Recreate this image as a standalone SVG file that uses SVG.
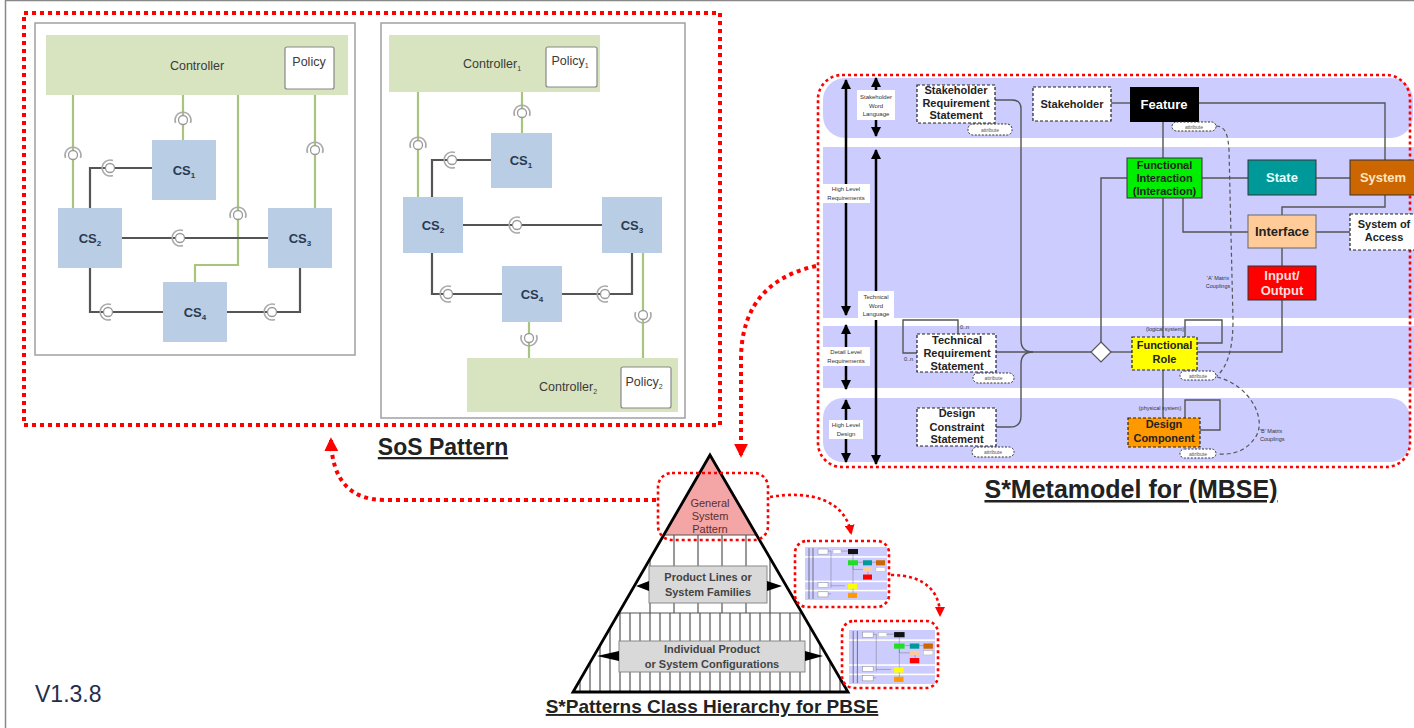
<svg xmlns="http://www.w3.org/2000/svg" width="1414" height="728" viewBox="0 0 1414 728">
<defs>
<style>
text{font-family:"Liberation Sans",Arial,sans-serif}
.frame{fill:#fff;stroke:#a0a0a0;stroke-width:1.5}
.ctrl{fill:#d8e4bf}
.pol{fill:#fff;stroke:#888;stroke-width:1.2}
.cs{fill:#b9cde5}
.g{fill:none;stroke:#a9c47f;stroke-width:2.2}
.d{fill:none;stroke:#555;stroke-width:2.2}
.t12{font-size:12.5px;fill:#3a3a3a;text-anchor:middle}
.cst{font-size:13px;font-weight:bold;fill:#2b3a50;text-anchor:middle}
.reddot{fill:none;stroke:#f00;stroke-width:4;stroke-dasharray:4 4}
.reddot2{fill:none;stroke:#f00;stroke-width:2.6;stroke-dasharray:3 3}
.band{fill:#ccccff}
.ml{fill:none;stroke:#555;stroke-width:1.4}
.vline{stroke:#000;stroke-width:2.5;marker-start:url(#ah);marker-end:url(#ah)}
.lbl{font-size:6px;fill:#333;text-anchor:middle}
.lblbg{fill:#fff}
.dn{stroke:#222;stroke-width:1.2;stroke-dasharray:3 2}
.nt{font-size:11px;font-weight:bold;text-anchor:middle;fill:#222}
.nt13{font-size:13px;font-weight:bold;text-anchor:middle}
.attr{fill:#fff;stroke:#333;stroke-width:1;stroke-dasharray:2 1.5}
.attrt{font-size:5px;fill:#555;text-anchor:middle}
.tiny{font-size:5.5px;fill:#333}
.title{font-weight:bold;fill:#222;text-decoration:underline;text-anchor:middle}
.hatch{stroke:#555;stroke-width:1.2}
.pbox{fill:#d9d9d9;stroke:#888;stroke-width:1}
.pt{font-size:11px;font-weight:bold;fill:#444;text-anchor:middle}
.sa{fill:none;stroke:#aaa;stroke-width:1.6}
.sb{fill:#fff;stroke:#999;stroke-width:1.3}
</style>
<marker id="ah" viewBox="0 0 10 10" refX="9" refY="5" markerWidth="4" markerHeight="4" orient="auto-start-reverse"><path d="M0,0 L10,5 L0,10 z" fill="#000"/></marker>
<marker id="rah" viewBox="0 0 10 10" refX="8" refY="5" markerUnits="userSpaceOnUse" markerWidth="14" markerHeight="14" orient="auto"><path d="M0,0 L10,5 L0,10 z" fill="#f00"/></marker>
<marker id="rah2" viewBox="0 0 10 10" refX="8" refY="5" markerUnits="userSpaceOnUse" markerWidth="10" markerHeight="10" orient="auto"><path d="M0,0 L10,5 L0,10 z" fill="#f00"/></marker>
<g id="sockT"><path class="sa" d="M-7.5,3 A8,8 0 1 1 7.5,3"/><circle class="sb" r="4.5"/></g>
<g id="sockB"><path class="sa" d="M-7.5,-3 A8,8 0 1 0 7.5,-3"/><circle class="sb" r="4.5"/></g>
<g id="sockL"><path class="sa" d="M3,-7.5 A8,8 0 1 0 3,7.5"/><circle class="sb" r="4.5"/></g>
<clipPath id="tri"><path d="M710,455 L573,692 L848,692 Z"/></clipPath>
<symbol id="thumb" viewBox="0 0 82 52" preserveAspectRatio="none">
<rect width="82" height="52" fill="#ccccff"/>
<rect y="9" width="82" height="1.5" fill="#fff"/>
<rect y="33" width="82" height="1.5" fill="#fff"/>
<rect y="42" width="82" height="1.5" fill="#fff"/>
<path d="M4,1 V51 M8,1 V51" stroke="#333" stroke-width="0.6"/>
<path d="M23,4 H26 V40 M23,46 H26 M26,38 H40 M36,4 H43 M48,7 V47 M53,15 H72 M48,18 V22 H59 M63,24 V27" fill="none" stroke="#666" stroke-width="0.4"/>
<rect x="13" y="2" width="10" height="5" fill="#fff" stroke="#777" stroke-width="0.4"/>
<rect x="28" y="2.5" width="8" height="4" fill="#fff" stroke="#999" stroke-width="0.3"/>
<rect x="43" y="2" width="10" height="5" fill="#111"/>
<rect x="43" y="13" width="10" height="5" fill="#22dd22"/>
<rect x="58" y="13" width="9" height="5" fill="#009999"/>
<rect x="71" y="13" width="9" height="5" fill="#cc6600"/>
<rect x="58" y="20" width="9" height="4" fill="#ffcc99"/>
<rect x="71" y="20" width="9" height="4" fill="#fff" stroke="#999" stroke-width="0.3"/>
<rect x="58" y="27" width="9" height="5" fill="#ff0000"/>
<rect x="13" y="35" width="10" height="5" fill="#fff" stroke="#777" stroke-width="0.4"/>
<rect x="43" y="36" width="9" height="5" fill="#ffff00"/>
<rect x="13" y="44" width="10" height="5" fill="#fff" stroke="#777" stroke-width="0.4"/>
<rect x="43" y="45" width="9" height="5" fill="#ff9900"/>
</symbol>
</defs>

<rect x="0" y="0" width="1414" height="728" fill="#fff"/>
<path d="M5.5,728 V0.5 H1414" fill="none" stroke="#888" stroke-width="1.5"/>

<!-- SoS pattern frame -->
<g id="sos-frame">
<rect class="reddot" x="24" y="13" width="696" height="412"/>
<text class="title" x="443" y="455" font-size="23">SoS Pattern</text>
</g>

<!-- Panel 1 -->
<g id="panel1">
<rect class="frame" x="35" y="23" width="320" height="332"/>
</g>
<g id="p1-connectors">
<path class="g" d="M73,95 V208 M183,95 V140 M238,95 V265 H195 V283 M315,95 V208"/>
<path class="d" d="M90,208 V168 H152 M122,238 H268 M90,268 V312 H163 M227,312 H300 V268"/>
<use href="#sockT" x="73" y="155"/>
<use href="#sockT" x="183" y="120"/>
<use href="#sockT" x="238" y="215"/>
<use href="#sockT" x="315" y="150"/>
<use href="#sockL" x="110" y="168"/>
<use href="#sockL" x="180" y="238"/>
<use href="#sockL" x="108" y="312"/>
<use href="#sockL" x="272" y="312"/>
</g>
<g id="p1-controller"><rect class="ctrl" x="46" y="35" width="302" height="60"/><text class="t12" x="197" y="70">Controller</text></g>
<g id="p1-policy"><rect class="pol" x="285" y="47" width="49" height="42" rx="2"/><text class="t12" x="309" y="66">Policy</text></g>
<g id="p1-cs1"><rect class="cs" x="152" y="140" width="64" height="60"/><text class="cst" x="184" y="175">CS<tspan font-size="8" dy="3">1</tspan></text></g>
<g id="p1-cs2"><rect class="cs" x="58" y="208" width="64" height="60"/><text class="cst" x="90" y="243">CS<tspan font-size="8" dy="3">2</tspan></text></g>
<g id="p1-cs3"><rect class="cs" x="268" y="208" width="64" height="60"/><text class="cst" x="300" y="243">CS<tspan font-size="8" dy="3">3</tspan></text></g>
<g id="p1-cs4"><rect class="cs" x="163" y="282" width="64" height="60"/><text class="cst" x="195" y="317">CS<tspan font-size="8" dy="3">4</tspan></text></g>

<!-- Panel 2 -->
<g id="panel2">
<rect class="frame" x="381" y="23" width="304" height="395"/>
</g>
<g id="p2-connectors">
<path class="g" d="M418,92 V197 M522,92 V133 M529,322 V358 M643,253 V358"/>
<path class="d" d="M432,197 V160 H491 M463,225 H602 M432,253 V294 H502 M562,294 H632 V253"/>
<use href="#sockT" x="418" y="145"/>
<use href="#sockT" x="522" y="113"/>
<use href="#sockB" x="529" y="338"/>
<use href="#sockB" x="643" y="315"/>
<use href="#sockL" x="452" y="160"/>
<use href="#sockL" x="517" y="225"/>
<use href="#sockL" x="448" y="294"/>
<use href="#sockL" x="605" y="294"/>
</g>
<g id="p2-controller1"><rect class="ctrl" x="389" y="35" width="211" height="57"/><text class="t12" x="492" y="68">Controller<tspan font-size="7" dy="3">1</tspan></text></g>
<g id="p2-policy1"><rect class="pol" x="546" y="47" width="51" height="40" rx="2"/><text class="t12" x="570" y="65">Policy<tspan font-size="7" dy="3">1</tspan></text></g>
<g id="p2-cs1"><rect class="cs" x="491" y="133" width="61" height="55"/><text class="cst" x="521" y="165">CS<tspan font-size="8" dy="3">1</tspan></text></g>
<g id="p2-cs2"><rect class="cs" x="403" y="197" width="60" height="56"/><text class="cst" x="433" y="230">CS<tspan font-size="8" dy="3">2</tspan></text></g>
<g id="p2-cs3"><rect class="cs" x="602" y="197" width="60" height="56"/><text class="cst" x="632" y="230">CS<tspan font-size="8" dy="3">3</tspan></text></g>
<g id="p2-cs4"><rect class="cs" x="502" y="266" width="60" height="56"/><text class="cst" x="532" y="299">CS<tspan font-size="8" dy="3">4</tspan></text></g>
<g id="p2-controller2"><rect class="ctrl" x="467" y="358" width="211" height="54"/><text class="t12" x="568" y="391">Controller<tspan font-size="7" dy="3">2</tspan></text></g>
<g id="p2-policy2"><rect class="pol" x="621" y="367" width="50" height="41" rx="2"/><text class="t12" x="644" y="386">Policy<tspan font-size="7" dy="3">2</tspan></text></g>

<!-- Metamodel -->
<g id="metamodel-frame">
<rect class="band" x="823" y="78" width="590" height="60" rx="22"/>
<rect class="band" x="823" y="147" width="591" height="171"/>
<rect class="band" x="823" y="326" width="591" height="62"/>
<rect class="band" x="823" y="398" width="587" height="64" rx="20"/>
<rect class="reddot2" x="818" y="75" width="592" height="392" rx="24"/>
<text class="title" x="1131" y="498" font-size="25">S*Metamodel for (MBSE)</text>
</g>
<g id="level-arrows">
<line class="vline" x1="846" y1="80" x2="846" y2="315"/>
<line class="vline" x1="846" y1="325" x2="846" y2="389"/>
<line class="vline" x1="846" y1="400" x2="846" y2="462"/>
<line class="vline" x1="876" y1="78" x2="876" y2="136"/>
<line class="vline" x1="876" y1="150" x2="876" y2="464"/>
<rect class="lblbg" x="857" y="90" width="38" height="30"/>
<text class="lbl" x="876" y="99">Stakeholder<tspan x="876" dy="8.5">Word</tspan><tspan x="876" dy="8.5">Language</tspan></text>
<rect class="lblbg" x="822" y="184" width="48" height="19"/>
<text class="lbl" x="846" y="191">High Level<tspan x="846" dy="9">Requirements</tspan></text>
<rect class="lblbg" x="858" y="291" width="36" height="29"/>
<text class="lbl" x="876" y="299">Technical<tspan x="876" dy="8.5">Word</tspan><tspan x="876" dy="8.5">Language</tspan></text>
<rect class="lblbg" x="822" y="347" width="48" height="19"/>
<text class="lbl" x="846" y="354">Detail Level<tspan x="846" dy="9">Requirements</tspan></text>
<rect class="lblbg" x="829" y="420" width="34" height="19"/>
<text class="lbl" x="846" y="427">High Level<tspan x="846" dy="9">Design</tspan></text>
</g>
<g id="mm-connectors">
<path class="ml" d="M995,100 H1012 Q1021,100 1021,109 V340 Q1021,352 1033,352"/>
<path class="ml" d="M996,427 H1010 Q1021,427 1021,416 V364 Q1021,352 1033,352"/>
<path class="ml" d="M996,352 H1091"/>
<path class="ml" d="M1101,342 V178 H1127"/>
<path class="ml" d="M1111,352 H1132"/>
<path class="ml" d="M1111,103 H1130"/>
<path class="ml" d="M1198,103 H1385 V160"/>
<path class="ml" d="M1163,122 V337 M1163,370 V418"/>
<path class="ml" d="M1202,178 H1248 M1316,178 H1350"/>
<path class="ml" d="M1183,198 V232 H1248"/>
<path class="ml" d="M1385,195 V207 H1282 V215"/>
<path class="ml" d="M1316,232 H1350 M1282,248 V266"/>
<path class="ml" d="M1282,300 V352 H1197"/>
<path class="ml" d="M1185,337 V320 H1222 V343 H1197"/>
<path class="ml" d="M1185,418 V400 H1220 V430 H1200"/>
<path class="ml" d="M958,334 V320 H903 V353 H917"/>
<path fill="none" stroke="#555" stroke-width="1.2" stroke-dasharray="4 3" d="M1216,126 C1226,126 1228,136 1229,150 L1233,320 C1233,345 1229,365 1217,376"/>
<path fill="none" stroke="#555" stroke-width="1.2" stroke-dasharray="4 3" d="M1217,377 C1250,385 1268,420 1255,438 C1245,452 1232,455 1217,454"/>
<text class="tiny" x="1218" y="280" text-anchor="middle">'A' Matrix<tspan x="1218" dy="8">Couplings</tspan></text>
<text class="tiny" x="1260" y="433">'B' Matrix<tspan x="1260" dy="8">Couplings</tspan></text>
<text class="tiny" x="960" y="329">0..n</text>
<text class="tiny" x="904" y="361">0..n</text>
<text class="tiny" x="1165" y="331" text-anchor="middle">(logical system)</text>
<text class="tiny" x="1160" y="410" text-anchor="middle">(physical system)</text>
</g>
<g id="n-srs"><rect fill="#fff" class="dn" x="917" y="85" width="78" height="38"/><text class="nt" x="956" y="94">Stakeholder<tspan x="956" dy="12.5">Requirement</tspan><tspan x="956" dy="12.5">Statement</tspan></text>
<rect class="attr" x="968" y="124" width="44" height="11" rx="5"/><text class="attrt" x="990" y="131.5">attribute</text></g>
<g id="n-stakeholder"><rect fill="#fff" class="dn" x="1033" y="87" width="78" height="34"/><text class="nt" x="1072" y="108">Stakeholder</text></g>
<g id="n-feature"><rect fill="#000" x="1130" y="87" width="69" height="35"/><text class="nt13" fill="#fff" x="1164" y="109">Feature</text>
<rect class="attr" x="1172" y="122" width="44" height="9" rx="4.5"/><text class="attrt" x="1194" y="128.5">attribute</text></g>
<g id="n-fi"><rect fill="#00ee00" stroke="#333" stroke-width="1" x="1127" y="158" width="75" height="40"/><text class="nt" x="1164.5" y="169">Functional<tspan x="1164.5" dy="13">Interaction</tspan><tspan x="1164.5" dy="13">(Interaction)</tspan></text></g>
<g id="n-state"><rect fill="#009999" stroke="#333" stroke-width="1" x="1248" y="160" width="68" height="35"/><text class="nt13" fill="#e8ffff" x="1282" y="182">State</text></g>
<g id="n-system"><rect fill="#cc6600" stroke="#333" stroke-width="1" x="1350" y="160" width="70" height="35"/><text class="nt13" fill="#ffe6c0" x="1383" y="182">System</text></g>
<g id="n-interface"><rect fill="#ffcc99" stroke="#666" stroke-width="1" x="1248" y="215" width="68" height="33"/><text class="nt13" fill="#222" x="1282" y="236">Interface</text></g>
<g id="n-soa"><rect fill="#fff" class="dn" x="1350" y="214" width="70" height="36"/><text class="nt" x="1384" y="228">System of<tspan x="1384" dy="13">Access</tspan></text></g>
<g id="n-io"><rect fill="#ff0000" stroke="#333" stroke-width="1" x="1248" y="266" width="68" height="34"/><text class="nt13" fill="#ffdede" x="1282" y="280">Input/<tspan x="1282" dy="14.5">Output</tspan></text></g>
<g id="n-diamond"><path d="M1101,342 L1111,352 L1101,362 L1091,352 Z" fill="#fff" stroke="#555" stroke-width="1.2"/></g>
<g id="n-fr"><rect fill="#ffff00" class="dn" x="1132" y="337" width="65" height="33"/><text class="nt" x="1164.5" y="349">Functional<tspan x="1164.5" dy="14">Role</tspan></text>
<rect class="attr" x="1180" y="371" width="36" height="9" rx="4.5"/><text class="attrt" x="1198" y="377.5">attribute</text></g>
<g id="n-dc"><rect fill="#ff9900" class="dn" x="1128" y="418" width="72" height="29"/><text class="nt" x="1164" y="428">Design<tspan x="1164" dy="14">Component</tspan></text>
<rect class="attr" x="1180" y="449" width="36" height="9" rx="4.5"/><text class="attrt" x="1198" y="455.5">attribute</text></g>
<g id="n-trs"><rect fill="#fff" class="dn" x="917" y="334" width="79" height="38"/><text class="nt" x="957" y="344">Technical<tspan x="957" dy="13">Requirement</tspan><tspan x="957" dy="13">Statement</tspan></text>
<rect class="attr" x="973" y="373" width="41" height="10" rx="5"/><text class="attrt" x="993.5" y="380">attribute</text></g>
<g id="n-dcs"><rect fill="#fff" class="dn" x="917" y="408" width="79" height="38"/><text class="nt" x="957" y="417">Design<tspan x="957" dy="13.5">Constraint</tspan><tspan x="957" dy="12.5">Statement</tspan></text>
<rect class="attr" x="972" y="447" width="42" height="10" rx="5"/><text class="attrt" x="993" y="454">attribute</text></g>

<!-- Pyramid -->
<g id="pyramid">
<path d="M710,455 L663.6,535 L756.4,535 Z" fill="#f4a6a6"/>
<g clip-path="url(#tri)">
<path class="hatch" d="M650,535 V613 M674,535 V613 M698,535 V613 M722,535 V613 M746,535 V613 M770,535 V613"/>
<path class="hatch" d="M580,613 V692 M590,613 V692 M600,613 V692 M610,613 V692 M620,613 V692 M630,613 V692 M640,613 V692 M650,613 V692 M660,613 V692 M670,613 V692 M680,613 V692 M690,613 V692 M700,613 V692 M710,613 V692 M720,613 V692 M730,613 V692 M740,613 V692 M750,613 V692 M760,613 V692 M770,613 V692 M780,613 V692 M790,613 V692 M800,613 V692 M810,613 V692 M820,613 V692 M830,613 V692 M840,613 V692"/>
<path d="M600,535 H820 M600,613 H820" stroke="#555" stroke-width="1.2"/>
</g>
<path d="M710,455 L573,692 L848,692 Z" fill="none" stroke="#000" stroke-width="2.8" stroke-linejoin="miter"/>
<text x="710" y="507" font-size="11px" fill="#5a3030" text-anchor="middle">General<tspan x="710" dy="13">System</tspan><tspan x="710" dy="13">Pattern</tspan></text>
</g>
<g id="pl-box">
<rect class="pbox" x="649" y="566" width="118" height="37"/>
<path d="M649,581 L636,586 L649,591 Z M767,581 L782,586 L767,591 Z" fill="#000"/>
<text class="pt" x="708" y="581">Product Lines or<tspan x="708" dy="15">System Families</tspan></text>
</g>
<g id="ip-box">
<rect class="pbox" x="619" y="641" width="186" height="31"/>
<path d="M619,651 L597,656 L619,661 Z M805,651 L823,656 L805,661 Z" fill="#000"/>
<text class="pt" x="712" y="653">Individual Product<tspan x="712" dy="15">or System Configurations</tspan></text>
</g>
<text class="title" x="712" y="713" font-size="19">S*Patterns Class Hierarchy for PBSE</text>

<g id="gsp-box"><rect class="reddot2" x="658" y="473" width="110" height="67" rx="14"/></g>
<g id="thumb1"><rect class="reddot2" x="795" y="541" width="94" height="66" rx="12"/><use href="#thumb" x="805" y="547" width="82" height="53"/></g>
<g id="thumb2"><rect class="reddot2" x="842" y="621" width="96" height="67" rx="12"/><use href="#thumb" x="849" y="630" width="86" height="54"/></g>

<!-- Big linking arrows -->
<g id="links">
<path class="reddot" d="M656,500 L385,500 C350,500 332,480 331,440" marker-end="url(#rah)"/>
<path class="reddot" d="M816,266 C775,275 741,300 741,360 L741,455" marker-end="url(#rah)"/>
<path class="reddot2" d="M770,497 C810,490 845,500 851,533" marker-end="url(#rah2)"/>
<path class="reddot2" d="M891,575 C925,575 940,592 940,615" marker-end="url(#rah2)"/>
</g>

<text x="35" y="702" font-size="23" fill="#1f2e4f">V1.3.8</text>
</svg>
